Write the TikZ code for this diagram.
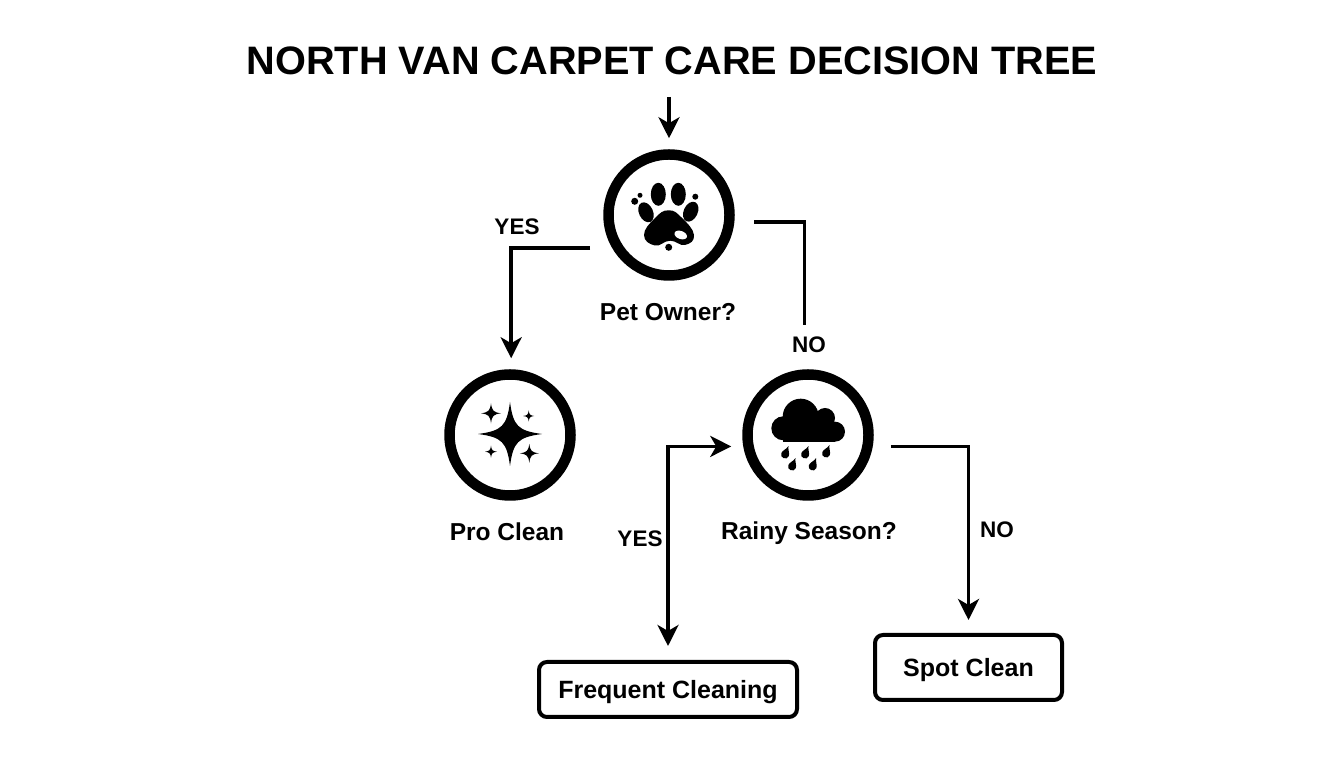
\documentclass[tikz,border=0pt]{standalone}
\usepackage{fontspec}
\setmainfont{Liberation Sans}
\usetikzlibrary{arrows.meta, positioning}

\tikzset{
	decision/.style={circle, draw, line width=10.5pt, minimum size=121pt, inner sep=0pt},
	result/.style={draw, line width=4pt, rounded corners=8pt, inner sep=0pt, text depth=0pt, font=\fontsize{25}{30}\selectfont\bfseries},
	tag/.style={inner sep=0pt, font=\fontsize{24.5}{29}\selectfont\bfseries},
	answer/.style={inner sep=0pt, font=\fontsize{22.5}{28}\selectfont\bfseries},
	flow/.style={line width=3.6pt, line join=miter}
}
\newcommand{\sparkle}[3]{
	\fill [shift={(#1,#2)}, scale=#3] (0,1) .. controls (.1,.25) and (.25,.1) .. (1,0) .. controls (.25,-.1) and (.1,-.25) .. (0,-1) .. controls (-.1,-.25) and (-.25,-.1) .. (-1,0) .. controls (-.25,.1) and (-.1,.25) .. (0,1) -- cycle;
}
\newcommand{\raindrop}[2]{
	\fill [shift={(#1,#2)}, rotate=-22] (0,7.5) .. controls (.8,3.5) and (4,1.5) .. (4,-1.8) .. controls (4,-6.8) and (-4,-6.8) .. (-4,-1.8) .. controls (-4,1.5) and (-.8,3.5) .. (0,7.5) -- cycle;
}

\begin{document}
\begin{tikzpicture}[x=1pt,y=1pt,on grid,>={Stealth[length=21pt,width=21pt,inset=6pt]}]
	\useasboundingbox [fill=white] (0,0) rectangle (1344,768);
	
	\node (title) [inner sep=0pt, font=\fontsize{39.7}{48}\selectfont\bfseries] at (672,707) {NORTH VAN CARPET CARE DECISION TREE};
	\coordinate (start) at (669,671);
	
	\node (pet) [decision] at (669,553) {};
	\node (pro) [decision, below left=220pt and 159pt of pet] {};
	\node (rain) [decision, below right=220pt and 139pt of pet] {};
	\node (frequent) [result, minimum width=258pt, minimum height=55pt, below left=254.5pt and 140pt of rain] {Frequent Cleaning};
	\node (spot) [result, minimum width=187pt, minimum height=65pt, below right=232.5pt and 160.5pt of rain] {Spot Clean};
	
	\node (petname) [tag, below=97pt of pet, xshift=-1pt] {Pet Owner?};
	\node (proname) [tag, below=97pt of pro, xshift=-3pt] {Pro Clean};
	\node (rainname) [tag, below=98pt of rain, xshift=1pt] {Rainy Season?};
	
	% paw
	\begin{scope}[shift={(pet.center)}]
		\fill (-10.7,20.7) ellipse [x radius=7.5, y radius=11.5];
		\fill (9.3,20.7) ellipse [x radius=7.5, y radius=11.5];
		\fill [rotate around={25:(-23,2.7)}] (-23,2.7) ellipse [x radius=7, y radius=10.5];
		\fill [rotate around={-25:(21.7,3.3)}] (21.7,3.3) ellipse [x radius=7, y radius=10.5];
		\fill (-34.3,13.7) circle [radius=3.5];
		\fill (-29,19.7) circle [radius=2.5];
		\fill (26.3,18.3) circle [radius=3];
		\fill (-.3,-32.3) circle [radius=3.5];
		\fill plot [smooth cycle, tension=.8] coordinates {(-.3,4.7) (-14,-3) (-25,-20) (-14,-30.5) (1,-25.7) (16,-30) (25,-20) (13,-3)};
		\fill [white, rotate around={-20:(11.7,-20)}] (11.7,-20) ellipse [x radius=6.5, y radius=4];
	\end{scope}
	
	% sparkles
	\begin{scope}[shift={(pro.center)}]
		\sparkle{0}{1}{32}
		\sparkle{-19}{21.7}{10}
		\sparkle{18.7}{19}{5.5}
		\sparkle{-19}{-16.7}{6}
		\sparkle{19.3}{-18.3}{9.5}
	\end{scope}
	
	% cloud
	\begin{scope}[shift={(rain.center)}]
		\fill (-7.3,18.3) circle [radius=18];
		\fill (17,17) circle [radius=10];
		\fill (-24.7,6.7) circle [radius=12];
		\fill (27,3.3) circle [radius=10];
		\fill (-24.7,-6.7) rectangle (27,12);
		\raindrop{-22.3}{-18}
		\raindrop{-2.3}{-18}
		\raindrop{18.7}{-17}
		\raindrop{-15.3}{-30}
		\raindrop{5.3}{-30}
	\end{scope}
	
	\draw [->, flow, shorten >=11pt] (start) -- (pet.north);
	\draw [->, flow, shorten <=22pt, shorten >=11pt] (pet.210) -| (pro.89);
	\draw [flow, shorten <=20pt, shorten >=44pt] (pet.-6) -| (rain.93);
	\draw [<->, flow, shorten <=12pt, shorten >=14pt] (rain.190) -| (frequent.north);
	\draw [->, flow, shorten <=18pt, shorten >=13pt] (rain.-10) -| (spot.north);
	
	\node (yesa) [answer] at (517,541) {YES};
	\node (noa) [answer] at (809,423) {NO};
	\node (yesb) [answer] at (640,229) {YES};
	\node (nob) [answer] at (997,238) {NO};
\end{tikzpicture}
\end{document}
